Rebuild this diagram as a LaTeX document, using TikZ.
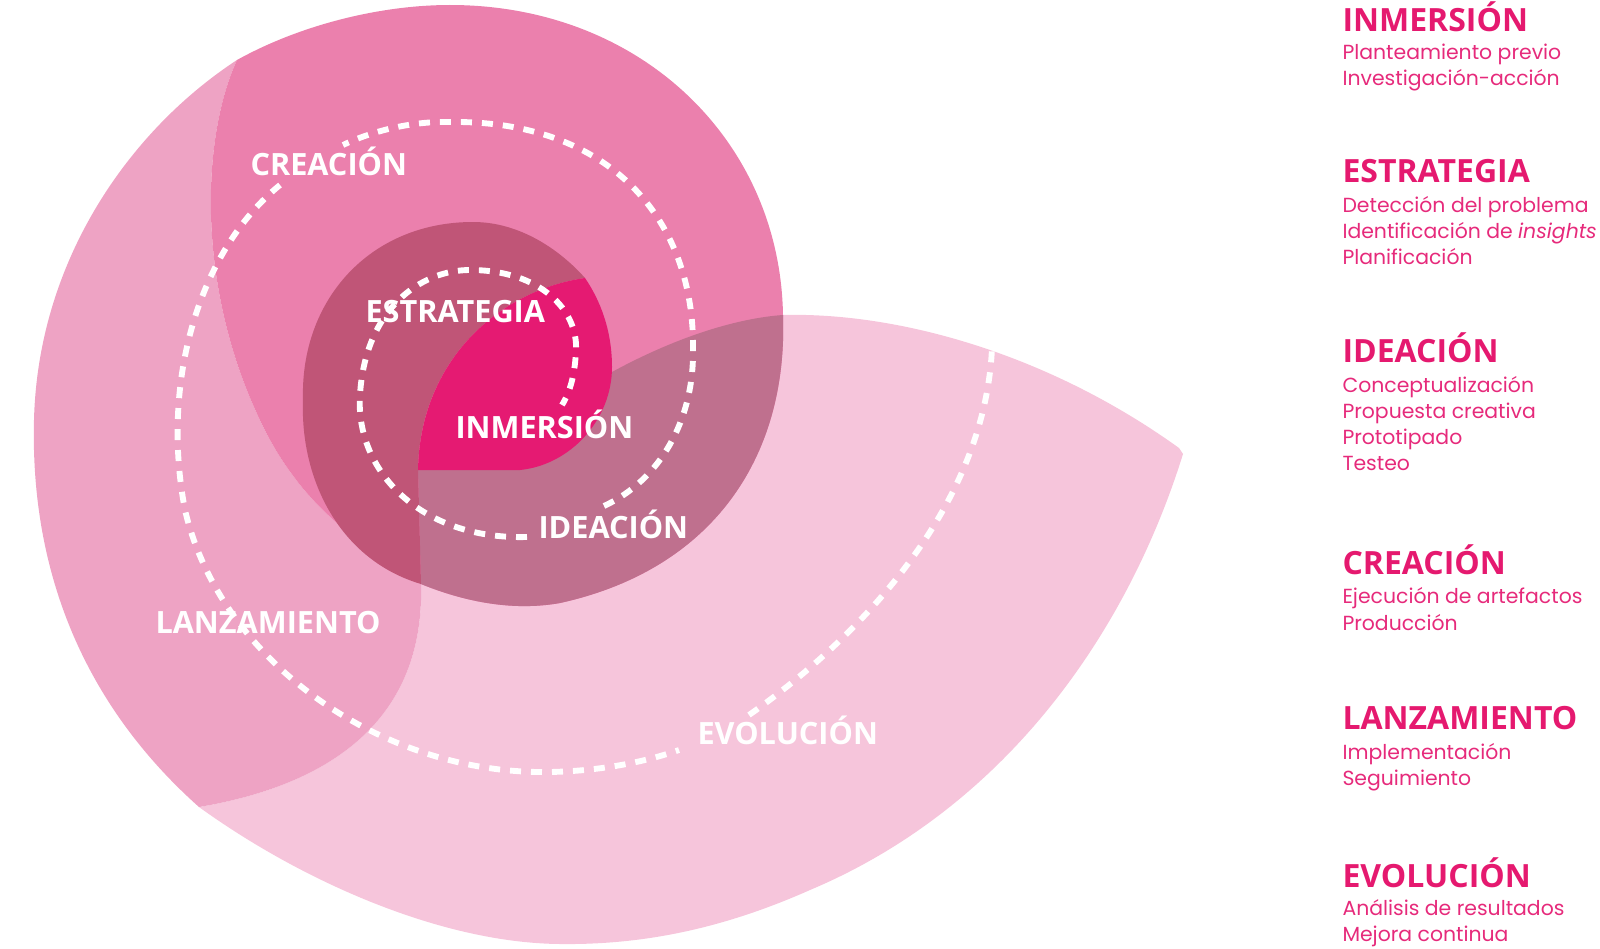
\documentclass[tikz,border=0pt]{standalone}
\usepackage{fontspec}
\setmainfont{Open Sans}
\newfontfamily\bodyfont{Poppins}

\definecolor{evolfill}{HTML}{F6C5DB}
\definecolor{lanzfill}{HTML}{EEA3C4}
\definecolor{creafill}{HTML}{EB80AD}
\definecolor{ideafill}{HTML}{BF708E}
\definecolor{estrafill}{HTML}{C05577}
\definecolor{inmerfill}{HTML}{E51A72}
\definecolor{headpink}{HTML}{E5196F}
\definecolor{bodypink}{HTML}{E62A7B}

\tikzset{every picture/.style={line width=0.75pt}}
\tikzset{
  stagelbl/.style={text=white, font=\fontsize{23}{27}\selectfont\bfseries, inner sep=0pt, anchor=base west},
  headlbl/.style={text=headpink, font=\fontsize{24}{28}\selectfont\bfseries, inner sep=0pt, anchor=base west},
  bodylbl/.style={text=bodypink, font=\bodyfont\fontsize{15.3}{19}\selectfont, inner sep=0pt, anchor=base west},
  spiraldash/.style={draw=white, line width=4.4pt, dash pattern=on 8.25pt off 7.5pt},
}

\begin{document}
\begin{tikzpicture}[x=0.75pt,y=0.75pt,yscale=-1,xscale=1]
\useasboundingbox (0,0) rectangle (1600,949);

%Shape: Evolucion
\fill[evolfill] (783,315) .. controls (900,312) and (1050,355) .. (1179,448) -- (1183,454) .. controls (1125,640) and (1000,810) .. (810,890) .. controls (720,930) and (640,945) .. (560,944) .. controls (440,943) and (300,880) .. (199,807) .. controls (330,785) and (425,720) .. (421,584) -- (418,469) -- (612,372) .. controls (680,335) and (740,318) .. (783,315) -- cycle;

%Shape: Lanzamiento
\fill[lanzfill] (199,807) .. controls (90,710) and (30,580) .. (34,420) .. controls (38,260) and (130,130) .. (237,60) .. controls (200,140) and (195,300) .. (270,440) .. controls (295,485) and (325,515) .. (352,535) -- (421,584) .. controls (425,720) and (330,785) .. (199,807) -- cycle;

%Shape: Creacion
\fill[creafill] (237,60) .. controls (300,25) and (380,5) .. (450,5) .. controls (640,5) and (780,140) .. (783,315) .. controls (788,460) and (710,570) .. (560,603) .. controls (510,612) and (460,600) .. (421,584) -- (352,535) .. controls (325,515) and (295,485) .. (270,440) .. controls (195,300) and (200,140) .. (237,60) -- cycle;

%Shape: Ideacion
\fill[ideafill] (418,469) -- (612,372) .. controls (680,335) and (740,318) .. (783,315) .. controls (788,460) and (710,570) .. (560,603) .. controls (510,612) and (460,600) .. (421,584) -- cycle;

%Shape: Estrategia
\fill[estrafill] (418,469) -- (421,584) .. controls (340,560) and (300,480) .. (303,400) .. controls (300,300) and (370,222) .. (473,222) .. controls (520,222) and (560,250) .. (585,278) .. controls (500,290) and (420,360) .. (418,469) -- cycle;

%Shape: Inmersion
\fill[inmerfill] (418,470) -- (520,470) .. controls (570,465) and (612,420) .. (612,367) .. controls (612,330) and (600,300) .. (585,278) .. controls (500,290) and (420,360) .. (418,470) -- cycle;

%Curve Lines: spiral
\draw[spiraldash] (527,537) .. controls (420,540) and (355,470) .. (360,395) .. controls (365,310) and (420,270) .. (470,270) .. controls (540,270) and (578,310) .. (576,350) .. controls (575,375) and (570,392) .. (562,405);
\draw[spiraldash] (604,506) .. controls (660,480) and (694,420) .. (693,350) .. controls (695,220) and (610,120) .. (450,122) .. controls (410,121) and (370,132) .. (343,145);
\draw[spiraldash] (280,185) .. controls (200,250) and (160,380) .. (185,510) .. controls (220,660) and (380,775) .. (550,772) .. controls (600,771) and (645,762) .. (679,750);
\draw[spiraldash] (749,715) .. controls (870,630) and (985,500) .. (992,348);

% Text Node
\draw (250,175) node [stagelbl] (lblCreacion) {CREACIÓN};
% Text Node
\draw (365,322) node [stagelbl] (lblEstrategia) {ESTRATEGIA};
% Text Node
\draw (455,438) node [stagelbl] (lblInmersion) {INMERSIÓN};
% Text Node
\draw (538,538) node [stagelbl] (lblIdeacion) {IDEACIÓN};
% Text Node
\draw (155,633) node [stagelbl] (lblLanzamiento) {LANZAMIENTO};
% Text Node
\draw (697,744) node [stagelbl] (lblEvolucion) {EVOLUCIÓN};

% Text Node
\draw (1342,32) node [headlbl] (hInmersion) {INMERSIÓN};
\draw (1342,60) node [bodylbl] (bInmersionA) {Planteamiento previo};
\draw (1342,86) node [bodylbl] (bInmersionB) {Investigación-acción};
% Text Node
\draw (1342,182) node [headlbl] (hEstrategia) {ESTRATEGIA};
\draw (1342,212) node [bodylbl] (bEstrategiaA) {Detección del problema};
\draw (1342,238) node [bodylbl] (bEstrategiaB) {Identificación de \textit{insights}};
\draw (1342,264) node [bodylbl] (bEstrategiaC) {Planificación};
% Text Node
\draw (1342,362) node [headlbl] (hIdeacion) {IDEACIÓN};
\draw (1342,392) node [bodylbl] (bIdeacionA) {Conceptualización};
\draw (1342,418) node [bodylbl] (bIdeacionB) {Propuesta creativa};
\draw (1342,444) node [bodylbl] (bIdeacionC) {Prototipado};
\draw (1342,470) node [bodylbl] (bIdeacionD) {Testeo};
% Text Node
\draw (1342,574) node [headlbl] (hCreacion) {CREACIÓN};
\draw (1342,603) node [bodylbl] (bCreacionA) {Ejecución de artefactos};
\draw (1342,630) node [bodylbl] (bCreacionB) {Producción};
% Text Node
\draw (1342,729) node [headlbl] (hLanzamiento) {LANZAMIENTO};
\draw (1342,759) node [bodylbl] (bLanzamientoA) {Implementación};
\draw (1342,785) node [bodylbl] (bLanzamientoB) {Seguimiento};
% Text Node
\draw (1342,887) node [headlbl] (hEvolucion) {EVOLUCIÓN};
\draw (1342,915) node [bodylbl] (bEvolucionA) {Análisis de resultados};
\draw (1342,941) node [bodylbl] (bEvolucionB) {Mejora continua};

\end{tikzpicture}
\end{document}
